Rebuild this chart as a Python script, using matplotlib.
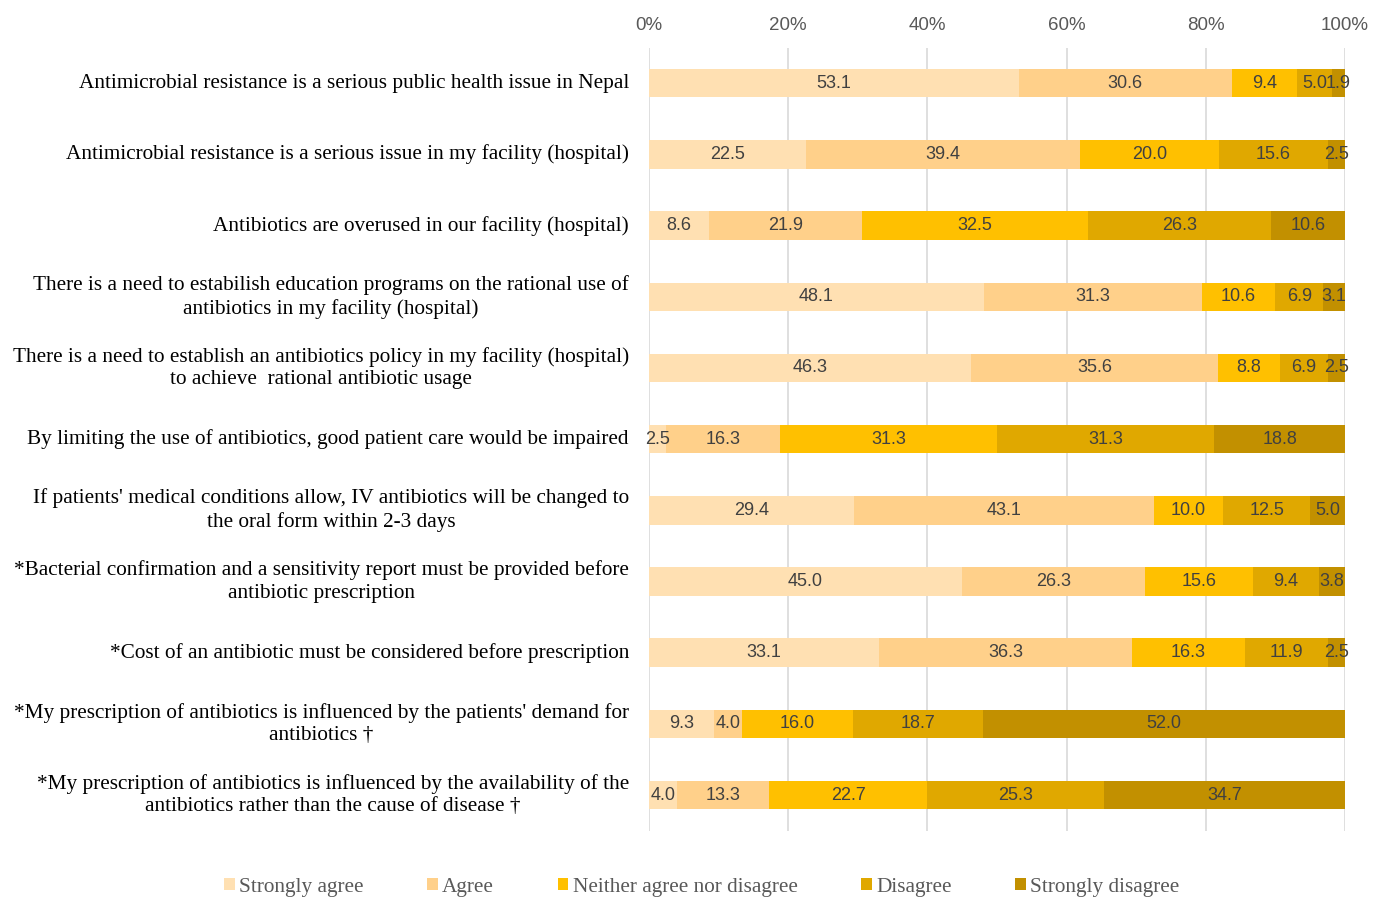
import matplotlib
matplotlib.use("Agg")
import matplotlib.pyplot as plt
import numpy as np

statements = [
    "Antimicrobial resistance is a serious public health issue in Nepal",
    "Antimicrobial resistance is a serious issue in my facility (hospital)",
    "Antibiotics are overused in our facility (hospital)",
    "There is a need to estabilish education programs on the rational use of\nantibiotics in my facility (hospital)",
    "There is a need to establish an antibiotics policy in my facility (hospital)\nto achieve  rational antibiotic usage",
    "By limiting the use of antibiotics, good patient care would be impaired",
    "If patients' medical conditions allow, IV antibiotics will be changed to\nthe oral form within 2-3 days",
    "*Bacterial confirmation and a sensitivity report must be provided before\nantibiotic prescription",
    "*Cost of an antibiotic must be considered before prescription",
    "*My prescription of antibiotics is influenced by the patients' demand for\nantibiotics \u2020",
    "*My prescription of antibiotics is influenced by the availability of the\nantibiotics rather than the cause of disease \u2020",
]
categories = ["Strongly agree", "Agree", "Neither agree nor disagree", "Disagree", "Strongly disagree"]
strongly_agree = [53.1, 22.5, 8.6, 48.1, 46.3, 2.5, 29.4, 45.0, 33.1, 9.3, 4.0]
agree = [30.6, 39.4, 21.9, 31.3, 35.6, 16.3, 43.1, 26.3, 36.3, 4.0, 13.3]
neither = [9.4, 20.0, 32.5, 10.6, 8.8, 31.3, 10.0, 15.6, 16.3, 16.0, 22.7]
disagree = [5.0, 15.6, 26.3, 6.9, 6.9, 31.3, 12.5, 9.4, 11.9, 18.7, 25.3]
strongly_disagree = [1.9, 2.5, 10.6, 3.1, 2.5, 18.8, 5.0, 3.8, 2.5, 52.0, 34.7]
xticks = [0, 20, 40, 60, 80, 100]
xtick_labels = ["0%", "20%", "40%", "60%", "80%", "100%"]
colors = ["#FFE0B2", "#FFD08A", "#FFC000", "#E0A800", "#C29000"]

series = np.array([strongly_agree, agree, neither, disagree, strongly_disagree])
totals = series.sum(axis=0)
shares = series / totals * 100

fig = plt.figure(figsize=(13.84, 8.98), dpi=100)
ax = fig.add_axes([0.469, 0.075, 0.5028, 0.872])
y = np.arange(len(statements))
left = np.zeros(len(statements))
for i, cat in enumerate(categories):
    ax.barh(y, shares[i], left=left, height=0.4, color=colors[i], label=cat, zorder=2)
    for j in range(len(statements)):
        ax.text(left[j] + shares[i][j] / 2, y[j], f"{series[i][j]:.1f}",
                ha="center", va="center", fontsize=13, color="#404040",
                family="Liberation Sans", zorder=3)
    left = left + shares[i]

ax.set_xlim(0, 100)
ax.set_ylim(len(statements) - 0.5, -0.5)
ax.set_yticks(y)
ax.set_yticklabels([])
for j, s in enumerate(statements):
    ax.text(-2.9, y[j], s, ha="right", va="center", multialignment="center",
            fontsize=15.3, family="Liberation Serif", color="#000000",
            transform=ax.transData, linespacing=1.25)
ax.set_xticks(xticks)
ax.set_xticklabels(xtick_labels, family="Liberation Sans", fontsize=13.5, color="#595959")
ax.xaxis.tick_top()
ax.tick_params(axis="x", length=0, pad=10)
ax.tick_params(axis="y", length=0)
ax.grid(axis="x", color="#D9D9D9", linewidth=1.2, zorder=0)
for sp in ax.spines.values():
    sp.set_visible(False)

leg = fig.legend(loc="center", bbox_to_anchor=(0.507, 0.012), ncol=5, frameon=False,
                 prop={"family": "Liberation Serif", "size": 15.3},
                 handlelength=0.5, handleheight=0.5, handletextpad=0.2, columnspacing=3.0)
for t in leg.get_texts():
    t.set_color("#595959")

fig.savefig("out.png", dpi=100)
